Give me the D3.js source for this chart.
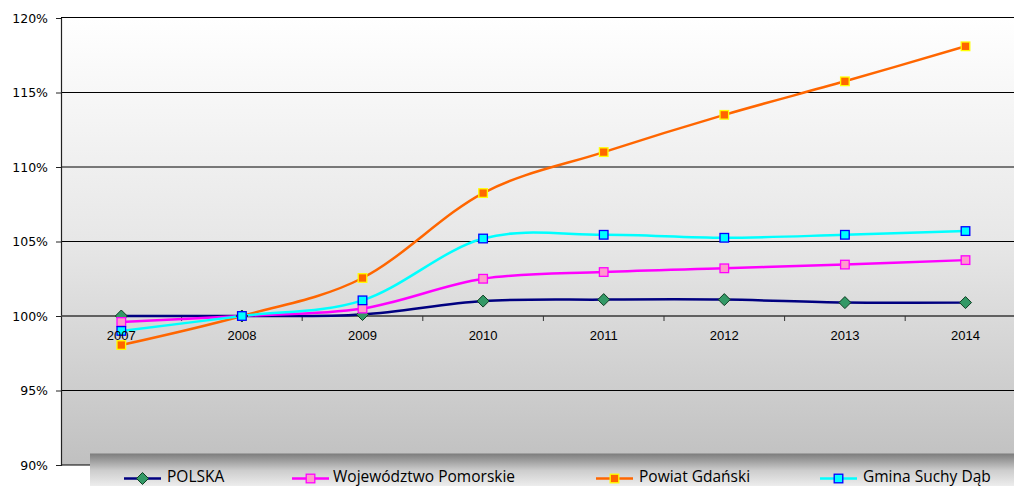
<!DOCTYPE html>
<html>
<head>
<meta charset="utf-8">
<script src="https://cdn.jsdelivr.net/npm/d3@7"></script>
<style>
  html, body { margin: 0; padding: 0; background: #ffffff; overflow: hidden; }
  svg { display: block; }
</style>
</head>
<body>
<svg id="chart" width="1014" height="486"></svg>
<script>
// Population index, 2008 = 100%
const years = ['2007', '2008', '2009', '2010', '2011', '2012', '2013', '2014'];
const polska    = [100.0, 100.0, 100.1, 101.0, 101.1, 101.1, 100.9, 100.9];
const pomorskie = [99.6, 100.0, 100.5, 102.5, 102.95, 103.2, 103.45, 103.75];
const powiat    = [98.05, 100.0, 102.55, 108.25, 111.0, 113.5, 115.75, 118.1];
const gmina     = [99.0, 100.0, 101.05, 105.2, 105.45, 105.25, 105.45, 105.7];
const yTicks = [90, 95, 100, 105, 110, 115, 120];
const seriesNames = ['POLSKA', 'Województwo Pomorskie', 'Powiat Gdański', 'Gmina Suchy Dąb'];

const series = [
  { name: seriesNames[0], values: polska,    line: '#000080', fill: '#339966', stroke: '#0f3d22', shape: 'diamond' },
  { name: seriesNames[1], values: pomorskie, line: '#ff00ff', fill: '#ff99cc', stroke: '#ff00ff', shape: 'square' },
  { name: seriesNames[2], values: powiat,    line: '#ff6600', fill: '#ff6600', stroke: '#ffff00', shape: 'square' },
  { name: seriesNames[3], values: gmina,     line: '#00ffff', fill: '#00ffff', stroke: '#0000ff', shape: 'square' }
];

const svg = d3.select('#chart');
const plot = { left: 61, right: 1025.8, top: 18, bottom: 465 };

const x = d3.scaleBand().domain(years).range([plot.left, plot.right]).padding(0);
const y = d3.scaleLinear().domain([90, 120]).range([plot.bottom, plot.top]);
const cx = d => x(d) + x.bandwidth() / 2;

const defs = svg.append('defs');
const bg = defs.append('linearGradient').attr('id', 'plotBg').attr('x1', 0).attr('y1', 0).attr('x2', 0).attr('y2', 1);
bg.append('stop').attr('offset', '0%').attr('stop-color', '#ffffff');
bg.append('stop').attr('offset', '50%').attr('stop-color', '#e7e7e7');
bg.append('stop').attr('offset', '100%').attr('stop-color', '#c0c0c0');

const lg = defs.append('linearGradient').attr('id', 'legendBg').attr('x1', 0).attr('y1', 0).attr('x2', 0).attr('y2', 1);
lg.append('stop').attr('offset', '0%').attr('stop-color', '#7c7c7c');
lg.append('stop').attr('offset', '50%').attr('stop-color', '#cdcdcd');
lg.append('stop').attr('offset', '100%').attr('stop-color', '#f0f0f0');

// plot background
svg.append('rect')
  .attr('x', plot.left).attr('y', plot.top)
  .attr('width', plot.right - plot.left).attr('height', plot.bottom - plot.top)
  .attr('fill', 'url(#plotBg)');

// horizontal gridlines
svg.append('g').selectAll('line').data(yTicks).join('line')
  .attr('x1', plot.left).attr('x2', plot.right)
  .attr('y1', d => d === 120 ? y(d) - 0.5 : y(d))
  .attr('y2', d => d === 120 ? y(d) - 0.5 : y(d))
  .attr('stroke', '#000').attr('stroke-width', 1);

// y axis
const yAxis = svg.append('g').attr('transform', `translate(${plot.left},0)`)
  .call(d3.axisLeft(y).tickValues(yTicks).tickSize(5).tickPadding(8).tickFormat(d => d + '%'));
yAxis.select('.domain').attr('stroke', '#222').attr('stroke-width', 1.2);
yAxis.selectAll('.tick line').attr('stroke', '#222');
yAxis.selectAll('text')
  .attr('font-family', '"DejaVu Sans", Verdana, sans-serif')
  .attr('font-size', '12.5px').attr('fill', '#000');

// category axis crossing at 100%
const xAxisY = y(100);
svg.append('line')
  .attr('x1', plot.left).attr('x2', plot.right)
  .attr('y1', xAxisY).attr('y2', xAxisY)
  .attr('stroke', '#555').attr('stroke-width', 1);
svg.append('g').selectAll('line').data(years.slice(1)).join('line')
  .attr('x1', d => x(d)).attr('x2', d => x(d))
  .attr('y1', xAxisY).attr('y2', xAxisY + 5)
  .attr('stroke', '#333').attr('stroke-width', 1);

// series lines
const line = d3.line()
  .x((v, i) => cx(years[i]))
  .y(v => y(v))
  .curve(d3.curveCardinal.tension(0));

const gSeries = svg.append('g');
series.forEach(s => {
  gSeries.append('path')
    .attr('d', line(s.values))
    .attr('fill', 'none')
    .attr('stroke', s.line)
    .attr('stroke-width', 2.5)
    .attr('stroke-linejoin', 'round');
});

function drawMarker(g, shape, px, py, fill, stroke) {
  if (shape === 'diamond') {
    const r = 6;
    g.append('path')
      .attr('d', `M${px},${py - r}L${px + r},${py}L${px},${py + r}L${px - r},${py}Z`)
      .attr('fill', fill).attr('stroke', stroke).attr('stroke-width', 1);
  } else {
    const h = 4.3;
    g.append('rect')
      .attr('x', px - h).attr('y', py - h).attr('width', 2 * h).attr('height', 2 * h)
      .attr('fill', fill).attr('stroke', stroke).attr('stroke-width', 1.3);
  }
}

series.forEach(s => {
  const g = gSeries.append('g');
  s.values.forEach((v, i) => drawMarker(g, s.shape, cx(years[i]), y(v), s.fill, s.stroke));
});

// category labels
svg.append('g').selectAll('text').data(years).join('text')
  .attr('x', d => cx(d)).attr('y', xAxisY + 24)
  .attr('text-anchor', 'middle')
  .attr('font-family', '"Liberation Sans", Arial, sans-serif')
  .attr('font-size', '13px').attr('fill', '#000')
  .text(d => d);

// legend
const legend = svg.append('g');
legend.append('rect')
  .attr('x', 90).attr('y', 453.5).attr('width', 1000).attr('height', 34)
  .attr('fill', 'url(#legendBg)');
const legendItems = [
  { lx: 124, tx: 167 },
  { lx: 292, tx: 333 },
  { lx: 596, tx: 639 },
  { lx: 820, tx: 863 }
];
series.forEach((s, i) => {
  const it = legendItems[i];
  const ly = 478.5;
  legend.append('line')
    .attr('x1', it.lx).attr('x2', it.lx + 37)
    .attr('y1', ly).attr('y2', ly)
    .attr('stroke', s.line).attr('stroke-width', 2.5);
  drawMarker(legend, s.shape, it.lx + 18.5, ly, s.fill, s.stroke);
  legend.append('text')
    .attr('x', it.tx).attr('y', 481.5)
    .attr('font-family', '"Open Sans", "Noto Sans", sans-serif')
    .attr('font-size', '15.5px').attr('fill', '#000')
    .text(s.name);
});
</script>
</body>
</html>
